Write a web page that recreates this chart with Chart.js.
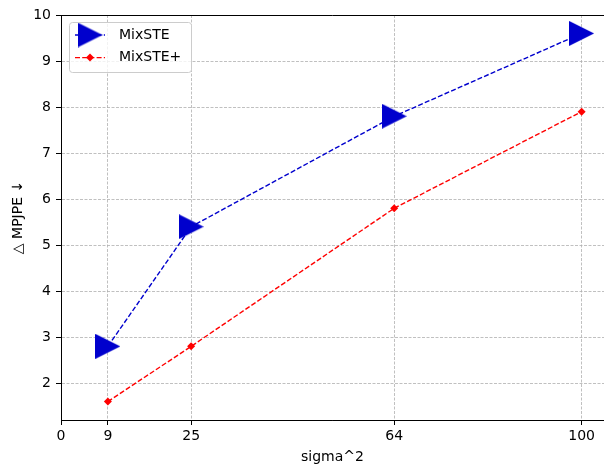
<!DOCTYPE html>
<html lang="en">
<head>
  <meta charset="UTF-8">
  <title>MixSTE vs MixSTE+</title>
  <script src="https://cdn.jsdelivr.net/npm/chart.js"></script>
  <style>
    html, body { margin: 0; padding: 0; background: #fff; }
    #wrap { width: 604px; height: 468px; }
  </style>
</head>
<body>
  <div id="wrap"><canvas id="chart" width="604" height="468"></canvas></div>
  <script>
    // valeurs
    const sigma2 = [9, 25, 64, 100];
    const mixste = [2.8, 5.4, 7.8, 9.6];
    const mixstePlus = [1.6, 2.8, 5.8, 7.9];
    const xTicks = [0, 9, 25, 64, 100];
    const yTicks = [2, 3, 4, 5, 6, 7, 8, 9, 10];

    const BLUE = '#0000cd';
    const RED = '#ff0000';
    const FONT = 'DejaVu Sans';

    // triangle pointant à droite, façon marker '>' de matplotlib
    function triangleMarker(size, color) {
      const c = document.createElement('canvas');
      c.width = size; c.height = size;
      const g = c.getContext('2d');
      g.fillStyle = color;
      g.beginPath();
      g.moveTo(0, 0);
      g.lineTo(size, size / 2);
      g.lineTo(0, size);
      g.closePath();
      g.fill();
      return c;
    }
    const tri = triangleMarker(25, BLUE);

    // cadre du haut (spine)
    const topSpine = {
      id: 'topSpine',
      afterDatasetsDraw(chart) {
        const { ctx, chartArea: a } = chart;
        ctx.save();
        ctx.strokeStyle = '#000';
        ctx.lineWidth = 1;
        ctx.beginPath();
        ctx.moveTo(a.left, a.top + 0.5);
        ctx.lineTo(a.right, a.top + 0.5);
        ctx.stroke();
        ctx.restore();
      }
    };

    // légende en haut à gauche, dessinée à la main
    const legendBox = {
      id: 'legendBox',
      afterDraw(chart) {
        const { ctx, chartArea: a } = chart;
        const x0 = a.left + 8, y0 = a.top + 7.5, w = 122, h = 50;
        ctx.save();
        ctx.fillStyle = 'rgba(255,255,255,0.8)';
        ctx.strokeStyle = '#cccccc';
        ctx.lineWidth = 1;
        ctx.beginPath();
        ctx.roundRect(x0 + 0.5, y0, w, h, 3);
        ctx.fill();
        ctx.stroke();

        chart.data.datasets.forEach((ds, i) => {
          const y = y0 + 12.5 + i * 22.6;
          ctx.strokeStyle = ds.borderColor;
          ctx.lineWidth = ds.borderWidth;
          ctx.setLineDash(ds.borderDash);
          ctx.beginPath();
          ctx.moveTo(x0 + 6, y);
          ctx.lineTo(x0 + 36, y);
          ctx.stroke();
          ctx.setLineDash([]);
          const mx = x0 + 21;
          if (ds.pointStyle === tri) {
            ctx.drawImage(tri, mx - 12.5, y - 12.5);
          } else {
            const r = ds.pointRadius;
            ctx.fillStyle = ds.pointBackgroundColor;
            ctx.beginPath();
            ctx.moveTo(mx, y - r);
            ctx.lineTo(mx + r, y);
            ctx.lineTo(mx, y + r);
            ctx.lineTo(mx - r, y);
            ctx.closePath();
            ctx.fill();
          }
          ctx.fillStyle = '#000';
          ctx.font = '14px "' + FONT + '"';
          ctx.textBaseline = 'middle';
          ctx.textAlign = 'left';
          ctx.fillText(ds.label, x0 + 50, y);
        });
        ctx.restore();
      }
    };

    const gridStyle = {
      color: '#b0b0b0',
      lineWidth: 0.8,
      borderDash: [3, 1.5],
      tickColor: '#000',
      tickBorderDash: [],
      tickWidth: 1,
      tickLength: 5
    };
    // en v4 le pointillé de la grille passe par border.dash
    const borderStyle = { color: '#000', width: 1, dash: [3, 1.5] };

    new Chart(document.getElementById('chart'), {
      type: 'line',
      data: {
        datasets: [
          {
            label: 'MixSTE',
            data: sigma2.map((x, i) => ({ x: x, y: mixste[i] })),
            borderColor: BLUE,
            borderWidth: 1.4,
            borderDash: [5, 2.2],
            pointStyle: tri,
            pointRadius: 12,
            pointBackgroundColor: BLUE,
            fill: false,
            tension: 0
          },
          {
            label: 'MixSTE+',
            data: sigma2.map((x, i) => ({ x: x, y: mixstePlus[i] })),
            borderColor: RED,
            borderWidth: 1.4,
            borderDash: [5, 2.2],
            pointStyle: 'rectRot',
            pointRadius: 4,
            pointBackgroundColor: RED,
            pointBorderWidth: 0,
            fill: false,
            tension: 0
          }
        ]
      },
      options: {
        responsive: false,
        animation: false,
        layout: { autoPadding: false, padding: { top: 15, right: 0, left: 0, bottom: 0 } },
        plugins: {
          legend: { display: false },
          tooltip: { enabled: false }
        },
        scales: {
          x: {
            type: 'linear',
            min: 0,
            max: 104.3,
            afterBuildTicks: s => { s.ticks = xTicks.map(v => ({ value: v })); },
            afterFit: s => {
              s.height = 48;
              s.paddingLeft = 0;
              s.paddingRight = 0;
            },
            grid: gridStyle,
            border: borderStyle,
            ticks: {
              color: '#000',
              font: { family: FONT, size: 14 },
              padding: 3,
              maxRotation: 0,
              autoSkip: false
            },
            title: {
              display: true,
              text: 'sigma^2',
              color: '#000',
              font: { family: FONT, size: 14 },
              padding: { top: 0, bottom: 2 }
            }
          },
          y: {
            min: 1.2,
            max: 10,
            afterBuildTicks: s => { s.ticks = yTicks.map(v => ({ value: v })); },
            afterFit: s => {
              s.width = 61;
              s.paddingTop = 0;
              s.paddingBottom = 0;
            },
            grid: gridStyle,
            border: borderStyle,
            ticks: {
              color: '#000',
              font: { family: FONT, size: 14 },
              padding: 5
            },
            title: {
              display: true,
              text: '△ MPJPE ↓',
              color: '#000',
              font: { family: FONT, size: 14 },
              padding: { top: 10, bottom: 0 }
            }
          }
        }
      },
      plugins: [topSpine, legendBox]
    });
  </script>
</body>
</html>
